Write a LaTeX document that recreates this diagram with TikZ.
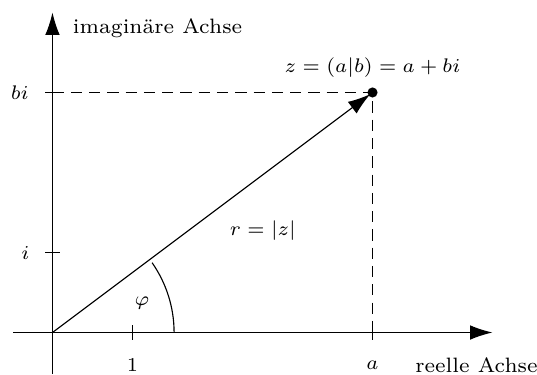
\documentclass[tikz,border=0pt]{standalone}
\usepackage{amsmath,amssymb}
\usetikzlibrary{arrows.meta}

\begin{document}
\begin{tikzpicture}[font=\fontsize{7.4}{9}\selectfont,
  >={Latex[length=8pt,width=5.2pt]},
  helpline/.style={dash pattern=on 4pt off 2.5pt}]

\useasboundingbox (-0.656,-0.519) rectangle (6.056,4.156);

% Axes
\draw[->] (-0.49,0) -- (5.5,0);
\draw[->] (0,-0.52) -- (0,4.0);
\node[anchor=west] (imlabel) at (0.13,3.8) {imagin\"are Achse};
\node (relabel) at (5.3,-0.41) {reelle Achse};

% Origin and point z
\coordinate (O) at (0,0);
\coordinate (z) at (4,3);

% Ticks
\draw (1,0.09) -- (1,-0.09);
\node (one) at (1,-0.41) {$1$};
\draw (-0.09,1) -- (0.1,1);
\node (ilabel) at (-0.34,1) {$i$};
\draw (-0.09,3) -- (0,3);
\node (bilabel) at (-0.41,3) {$bi$};
\draw (4,0) -- (4,-0.09);
\node (alabel) at (4,-0.41) {$a$};

% Dashed help lines
\draw[helpline] (0,3) -- (z) -- (4,0);

% Vector
\draw[->, shorten >=1pt] (O) -- (z);
\fill (z) circle (1.8pt);

% Angle
\draw (1.52,0) arc[start angle=0, end angle=35, radius=1.52];

% Labels
\node (zlabel) at (4,3.31) {$z=(a|b)=a+bi$};
\node (rlabel) at (2.63,1.27) {$r=|z|$};
\node (philabel) at (1.12,0.37) {$\varphi$};

\end{tikzpicture}
\end{document}
